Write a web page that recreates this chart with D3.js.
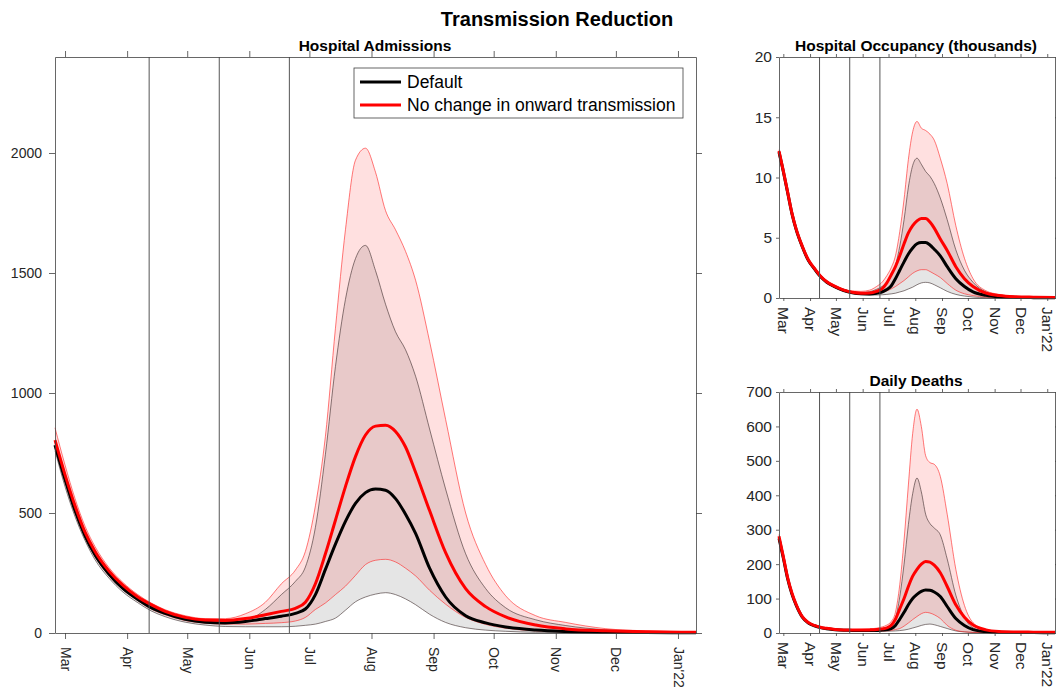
<!DOCTYPE html>
<html>
<head>
<meta charset="utf-8">
<script src="https://cdn.jsdelivr.net/npm/d3@7"></script>
<style>
  body { margin: 0; background: #fff; }
  svg { display: block; font-family: 'Liberation Sans', Arial, Helvetica, sans-serif; }
  .axis path, .axis line { stroke: #404040; stroke-width: 0.8; }
  .axis text { fill: #262626; }
</style>
</head>
<body>
<div id="container"></div>
<script>
// sample dates (denser around the summer peak)
const dates = [
  '2021-02-24', '2021-03-01', '2021-03-06', '2021-03-11', '2021-03-16', '2021-03-23',
  '2021-03-30', '2021-04-06', '2021-04-13', '2021-04-20', '2021-04-30', '2021-05-10',
  '2021-05-20', '2021-05-30', '2021-06-09', '2021-06-17', '2021-06-24', '2021-06-29',
  '2021-07-04', '2021-07-09', '2021-07-14', '2021-07-19', '2021-07-24', '2021-07-29',
  '2021-08-03', '2021-08-08', '2021-08-13', '2021-08-18', '2021-08-23', '2021-08-30',
  '2021-09-07', '2021-09-17', '2021-09-27', '2021-10-07', '2021-10-22', '2021-11-06',
  '2021-11-26', '2021-12-16', '2022-01-10',
];

const monthTicks = [
  '2021-03-01', '2021-04-01', '2021-05-01', '2021-06-01', '2021-07-01', '2021-08-01',
  '2021-09-01', '2021-10-01', '2021-11-01', '2021-12-01', '2022-01-01',
];
const monthLabels = ['Mar', 'Apr', 'May', 'Jun', 'Jul', 'Aug', 'Sep', 'Oct', 'Nov', 'Dec', "Jan'22"];

// roadmap steps
const stepDates = ['2021-04-12', '2021-05-17', '2021-06-21'];

const seriesNames = ['Default', 'No change in onward transmission'];

// Hospital admissions
const admDefault = [783, 640, 510, 405, 325, 245, 185, 142, 106, 82, 57, 45, 42, 48, 60, 70, 82, 100, 160, 265, 370, 465, 540, 585, 600, 595, 560, 495, 415, 270, 150, 72, 42, 25, 12, 6, 3, 2, 1];
const admDefaultLo = [760, 610, 485, 385, 305, 228, 170, 128, 92, 68, 45, 33, 27, 26, 26, 26, 28, 32, 37, 48, 62, 95, 130, 150, 162, 168, 160, 142, 118, 78, 44, 22, 12, 7, 3, 2, 1, 1, 0];
const admDefaultHi = [800, 655, 525, 418, 335, 252, 192, 147, 110, 85, 60, 48, 46, 52, 98, 160, 215, 275, 440, 745, 1110, 1390, 1560, 1615, 1510, 1370, 1255, 1180, 1070, 850, 600, 330, 185, 105, 55, 31, 13, 6, 3];
const admNoChange = [804, 660, 530, 420, 340, 258, 198, 152, 118, 90, 65, 54, 52, 60, 76, 90, 103, 128, 205, 330, 470, 610, 735, 825, 862, 866, 840, 775, 670, 510, 335, 185, 110, 67, 33, 17, 9, 5, 3];
const admNoChangeLo = [770, 630, 500, 398, 318, 238, 180, 137, 100, 76, 52, 41, 37, 37, 40, 43, 50, 65, 98, 125, 160, 195, 240, 285, 303, 307, 296, 270, 238, 178, 120, 65, 36, 20, 9, 5, 2, 1, 1];
const admNoChangeHi = [855, 700, 560, 445, 360, 272, 210, 162, 125, 97, 72, 60, 60, 80, 128, 205, 262, 340, 530, 820, 1270, 1680, 1970, 2020, 1920, 1760, 1680, 1590, 1470, 1215, 890, 500, 285, 155, 72, 44, 18, 9, 5];

// Hospital occupancy (thousands)
const occDefault = [12.1, 10.5, 8.75, 7.0, 5.65, 4.25, 3.12, 2.42, 1.78, 1.33, 0.92, 0.62, 0.43, 0.35, 0.34, 0.4, 0.52, 0.7, 1.0, 1.6, 2.3, 3.0, 3.65, 4.15, 4.5, 4.6, 4.6, 4.4, 4.05, 3.5, 2.6, 1.6, 0.95, 0.5, 0.22, 0.1, 0.05, 0.03, 0.02];
const occDefaultLo = [11.9, 10.3, 8.55, 6.82, 5.5, 4.12, 3.0, 2.32, 1.7, 1.25, 0.85, 0.56, 0.37, 0.28, 0.25, 0.25, 0.27, 0.3, 0.34, 0.4, 0.5, 0.6, 0.75, 0.9, 1.1, 1.25, 1.3, 1.25, 1.1, 0.85, 0.55, 0.3, 0.16, 0.08, 0.03, 0.01, 0, 0, 0];
const occDefaultHi = [12.2, 10.6, 8.85, 7.1, 5.75, 4.35, 3.2, 2.5, 1.85, 1.4, 0.98, 0.68, 0.5, 0.45, 0.52, 0.72, 0.98, 1.3, 1.8, 2.7, 4.3, 6.5, 9.2, 11.0, 11.6, 11.1, 10.5, 10.1, 9.5, 8.3, 6.5, 4.0, 2.3, 1.3, 0.5, 0.22, 0.1, 0.06, 0.04];
const occNoChange = [12.2, 10.55, 8.8, 7.05, 5.7, 4.3, 3.17, 2.47, 1.83, 1.37, 0.96, 0.66, 0.47, 0.4, 0.42, 0.55, 0.8, 1.25, 1.9, 2.6, 3.5, 4.5, 5.4, 6.0, 6.4, 6.6, 6.6, 6.3, 5.8, 4.9, 3.95, 2.6, 1.6, 0.95, 0.4, 0.2, 0.1, 0.07, 0.05];
const occNoChangeLo = [12.0, 10.4, 8.65, 6.9, 5.58, 4.2, 3.08, 2.38, 1.75, 1.3, 0.9, 0.6, 0.41, 0.33, 0.31, 0.35, 0.45, 0.58, 0.75, 0.95, 1.2, 1.45, 1.75, 2.05, 2.25, 2.35, 2.35, 2.2, 2.0, 1.7, 1.2, 0.65, 0.35, 0.2, 0.08, 0.04, 0.02, 0.01, 0.01];
const occNoChangeHi = [12.3, 10.65, 8.9, 7.15, 5.8, 4.4, 3.25, 2.55, 1.9, 1.45, 1.03, 0.74, 0.58, 0.55, 0.65, 0.95, 1.35, 1.85, 2.5, 3.5, 5.5, 8.2, 11.5, 13.8, 14.65, 14.1, 13.9, 13.6, 13.1, 11.6, 9.5, 6.0, 3.3, 1.6, 0.6, 0.3, 0.13, 0.08, 0.06];

// Daily deaths
const dthDefault = [275, 218, 158, 113, 80, 46, 29, 21, 15.5, 12.5, 9.5, 8, 7.5, 7, 7, 7.5, 8.5, 10, 13, 22, 40, 60, 82, 100, 112, 121, 125, 124, 119, 106, 77, 42, 22, 10, 4, 2, 1.5, 1.2, 1];
const dthDefaultLo = [268, 212, 153, 109, 77, 44, 27.5, 20, 14.5, 11.5, 8.5, 7, 6.5, 6, 5.5, 5, 5, 5, 5.5, 6, 7, 8.5, 11, 14.5, 18, 22, 25, 26, 24, 19, 13, 6, 3, 1.5, 0.6, 0.3, 0.2, 0.1, 0.1];
const dthDefaultHi = [279, 221, 161, 115, 82, 47.5, 30, 22, 16.5, 13.5, 10.5, 9, 8.5, 8.5, 9, 10.5, 13, 16, 22, 42, 105, 200, 315, 405, 450, 410, 345, 318, 305, 285, 215, 110, 45, 15, 5, 2.5, 1.8, 1.5, 1.2];
const dthNoChange = [281, 222, 161, 116, 82, 47.5, 30.5, 22, 16.5, 13.5, 10.5, 9, 8.5, 8.5, 9, 10, 12, 15, 22, 40, 70, 100, 135, 165, 185, 200, 208, 206, 197, 175, 135, 82, 46, 23, 9, 4.5, 3, 2.5, 2];
const dthNoChangeLo = [272, 215, 156, 111, 78, 45, 28.5, 20.5, 15, 12, 9, 7.5, 7, 6.5, 6, 6, 6, 6.5, 7.5, 10, 13, 20, 29, 39, 48, 56, 60, 58, 53, 42, 22, 8, 3.5, 1.8, 1, 0.8, 0.6, 0.5, 0.5];
const dthNoChangeHi = [286, 226, 164, 119, 85, 49.5, 32, 23.5, 18, 15, 12, 10.5, 10, 10.5, 12, 14, 18, 23, 33, 60, 140, 270, 430, 580, 650, 600, 515, 495, 490, 455, 345, 185, 80, 30, 10, 5, 3.5, 2.8, 2.4];

const parseDate = d3.timeParse('%Y-%m-%d');
const X_DOMAIN = [parseDate('2021-02-24'), parseDate('2022-01-10')];

const WIDTH = 1056;
const HEIGHT = 689;

const svg = d3
  .select('#container')
  .append('svg')
  .attr('width', WIDTH)
  .attr('height', HEIGHT);

svg
  .append('text')
  .attr('x', 557)
  .attr('y', 26)
  .attr('text-anchor', 'middle')
  .style('font-size', '20px')
  .style('font-weight', 'bold')
  .text('Transmission Reduction');

function drawPanel(cfg) {
  const { left, right, top, bottom } = cfg.box;
  const x = d3.scaleTime().domain(X_DOMAIN).range([left, right]);
  const y = d3.scaleLinear().domain([0, cfg.yMax]).range([bottom, top]);

  const rows = dates.map((d, i) => ({
    date: parseDate(d),
    def: cfg.def[i],
    defLo: cfg.defLo[i],
    defHi: cfg.defHi[i],
    nc: cfg.nc[i],
    ncLo: cfg.ncLo[i],
    ncHi: cfg.ncHi[i],
  }));

  const g = svg.append('g');

  const band = (lo, hi) =>
    d3
      .area()
      .curve(d3.curveMonotoneX)
      .x((d) => x(d.date))
      .y0((d) => y(d[lo]))
      .y1((d) => y(d[hi]));
  const line = (key) =>
    d3
      .line()
      .curve(d3.curveMonotoneX)
      .x((d) => x(d.date))
      .y((d) => y(d[key]));

  g.append('path').datum(rows).attr('d', band('defLo', 'defHi')).attr('fill', 'rgba(0,0,0,0.1)');
  g.append('path').datum(rows).attr('d', band('ncLo', 'ncHi')).attr('fill', 'rgba(255,0,0,0.12)');

  ['defLo', 'defHi'].forEach((k) => {
    g.append('path').datum(rows).attr('d', line(k))
      .attr('fill', 'none').attr('stroke', '#3a2a2a').attr('stroke-width', 0.6);
  });
  ['ncLo', 'ncHi'].forEach((k) => {
    g.append('path').datum(rows).attr('d', line(k))
      .attr('fill', 'none').attr('stroke', '#ff2020').attr('stroke-width', 0.6);
  });

  g.append('path').datum(rows).attr('d', line('def'))
    .attr('fill', 'none').attr('stroke', '#000').attr('stroke-width', 3);
  g.append('path').datum(rows).attr('d', line('nc'))
    .attr('fill', 'none').attr('stroke', '#ff0000').attr('stroke-width', 3);

  g.selectAll('line.step')
    .data(stepDates)
    .enter()
    .append('line')
    .attr('class', 'step')
    .attr('x1', (d) => x(parseDate(d)))
    .attr('x2', (d) => x(parseDate(d)))
    .attr('y1', top)
    .attr('y2', bottom)
    .attr('stroke', '#555')
    .attr('stroke-width', 1);

  const tickDates = monthTicks.map(parseDate);
  const ts = cfg.tickSize;

  const xb = g
    .append('g')
    .attr('class', 'axis')
    .attr('transform', `translate(0,${bottom})`)
    .call(
      d3.axisBottom(x).tickValues(tickDates).tickSize(ts).tickSizeOuter(0)
        .tickFormat((d, i) => monthLabels[i])
    );
  xb.selectAll('text')
    .attr('transform', 'rotate(90)')
    .attr('x', cfg.xLabelGap)
    .attr('y', 0)
    .attr('dy', '0.35em')
    .style('text-anchor', 'start')
    .style('font-size', cfg.fontSize + 'px');

  g.append('g')
    .attr('class', 'axis')
    .attr('transform', `translate(0,${top})`)
    .call(d3.axisTop(x).tickValues(tickDates).tickSize(ts).tickSizeOuter(0).tickFormat(''));

  g.append('g')
    .attr('class', 'axis')
    .attr('transform', `translate(${left},0)`)
    .call(
      d3.axisLeft(y).tickValues(cfg.yTicks).tickSize(ts).tickSizeOuter(0)
        .tickPadding(cfg.yPad).tickFormat(d3.format('d'))
    )
    .selectAll('text')
    .style('font-size', cfg.fontSize + 'px');

  g.append('g')
    .attr('class', 'axis')
    .attr('transform', `translate(${right},0)`)
    .call(d3.axisRight(y).tickValues(cfg.yTicks).tickSize(ts).tickSizeOuter(0).tickFormat(''));

  g.append('text')
    .attr('x', cfg.titleX)
    .attr('y', cfg.titleY)
    .attr('text-anchor', 'middle')
    .style('font-size', '15.5px')
    .style('font-weight', 'bold')
    .text(cfg.title);

  return g;
}

const main = drawPanel({
  box: { left: 55, right: 696, top: 57, bottom: 633 },
  yMax: 2400,
  yTicks: [0, 500, 1000, 1500, 2000],
  def: admDefault, defLo: admDefaultLo, defHi: admDefaultHi,
  nc: admNoChange, ncLo: admNoChangeLo, ncHi: admNoChangeHi,
  tickSize: 6, yPad: 7, xLabelGap: 14, fontSize: 14,
  title: 'Hospital Admissions', titleX: 375, titleY: 51,
});

drawPanel({
  box: { left: 779, right: 1055, top: 57, bottom: 298 },
  yMax: 20,
  yTicks: [0, 5, 10, 15, 20],
  def: occDefault, defLo: occDefaultLo, defHi: occDefaultHi,
  nc: occNoChange, ncLo: occNoChangeLo, ncHi: occNoChangeHi,
  tickSize: 3, yPad: 4, xLabelGap: 9, fontSize: 15.5,
  title: 'Hospital Occupancy (thousands)', titleX: 916, titleY: 51,
});

drawPanel({
  box: { left: 779, right: 1055, top: 392, bottom: 633 },
  yMax: 700,
  yTicks: [0, 100, 200, 300, 400, 500, 600, 700],
  def: dthDefault, defLo: dthDefaultLo, defHi: dthDefaultHi,
  nc: dthNoChange, ncLo: dthNoChangeLo, ncHi: dthNoChangeHi,
  tickSize: 3, yPad: 4, xLabelGap: 9, fontSize: 15.5,
  title: 'Daily Deaths', titleX: 916, titleY: 386,
});

// legend
const legend = main.append('g').attr('transform', 'translate(354,68)');
legend
  .append('rect')
  .attr('width', 329)
  .attr('height', 50)
  .attr('fill', '#fff')
  .attr('stroke', '#404040')
  .attr('stroke-width', 0.8);

const legendItem = legend
  .selectAll('g')
  .data(seriesNames)
  .enter()
  .append('g')
  .attr('transform', (d, i) => `translate(0, ${14 + i * 23})`);

legendItem
  .append('line')
  .attr('x1', 6)
  .attr('x2', 47)
  .attr('stroke', (d, i) => (i === 0 ? '#000' : '#ff0000'))
  .attr('stroke-width', 3);

legendItem
  .append('text')
  .attr('x', 53)
  .attr('dy', '0.35em')
  .style('font-size', '17.5px')
  .text((d) => d);
</script>
</body>
</html>
